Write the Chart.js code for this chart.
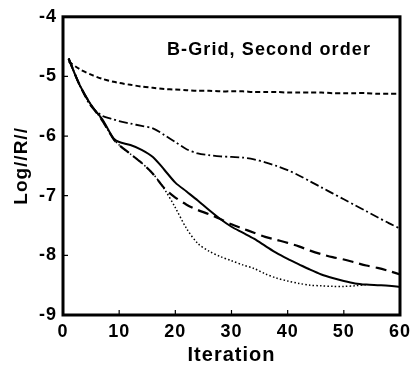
<!DOCTYPE html>
<html><head><meta charset="utf-8">
<script src="https://cdn.jsdelivr.net/npm/chart.js@4/dist/chart.umd.min.js"></script>
<style>html,body{margin:0;padding:0;background:#fff}#wrap{width:416px;height:369px}</style>
</head><body><div id="wrap"><canvas id="c" width="416" height="369"></canvas></div>
<script>
const iterations = [1,3,5,7,9,10,12,14,16,18,20,22,24,26,28,30,32,34,36,38,40,42,44,46,48,50,52,54,56,58,60];
const solid      = [-4.70,-5.15,-5.48,-5.72,-6.04,-6.10,-6.15,-6.23,-6.35,-6.56,-6.78,-6.93,-7.08,-7.24,-7.39,-7.52,-7.62,-7.72,-7.84,-7.96,-8.06,-8.15,-8.24,-8.32,-8.38,-8.43,-8.47,-8.49,-8.50,-8.51,-8.53];
const longDash   = [-4.70,-5.15,-5.48,-5.74,-6.05,-6.15,-6.30,-6.45,-6.63,-6.87,-7.03,-7.15,-7.24,-7.31,-7.39,-7.48,-7.55,-7.62,-7.69,-7.74,-7.79,-7.85,-7.92,-7.98,-8.03,-8.07,-8.12,-8.17,-8.21,-8.26,-8.32];
const dotted     = [-4.70,-5.15,-5.48,-5.74,-6.05,-6.15,-6.30,-6.45,-6.63,-6.88,-7.20,-7.55,-7.80,-7.93,-8.02,-8.09,-8.16,-8.22,-8.31,-8.38,-8.43,-8.47,-8.50,-8.51,-8.52,-8.52,-8.51,-8.49,null,null,null];
const dashDot    = [-4.70,-5.15,-5.50,-5.66,-5.72,-5.75,-5.79,-5.83,-5.87,-5.98,-6.10,-6.22,-6.29,-6.32,-6.34,-6.35,-6.36,-6.39,-6.44,-6.50,-6.57,-6.66,-6.76,-6.86,-6.96,-7.06,-7.16,-7.26,-7.36,-7.46,-7.55];
const shortDash  = [-4.75,-4.88,-4.97,-5.04,-5.09,-5.11,-5.14,-5.17,-5.19,-5.21,-5.22,-5.23,-5.24,-5.24,-5.25,-5.25,-5.25,-5.26,-5.26,-5.26,-5.27,-5.27,-5.27,-5.27,-5.28,-5.28,-5.28,-5.28,-5.29,-5.29,-5.29];
const xTicks = [0,10,20,30,40,50,60];
const yTicks = [-9,-8,-7,-6,-5,-4];
const xTitle = 'Iteration';
const yTitle = 'Log//R//';
const annotation = 'B-Grid, Second order';

function pts(arr){ return iterations.map((x,i)=>({x:x,y:arr[i]})).filter(p=>p.y!==null); }
function ds(arr, dash, width){
  return {data:pts(arr), borderColor:'#000', borderWidth:width, borderDash:dash, pointRadius:0, tension:0.3, fill:false};
}
const FONT = '"Liberation Sans", Arial, Helvetica, sans-serif';

const framePlugin = {
  id:'frame',
  beforeDraw(chart){ chart.ctx.letterSpacing='1px'; },
  afterDatasetsDraw(chart){
    const {ctx, chartArea:a, scales:{x,y}} = chart;
    ctx.save();
    ctx.strokeStyle='#000';
    ctx.lineWidth=3;
    ctx.strokeRect(a.left, a.top, a.right-a.left, a.bottom-a.top);
    ctx.lineWidth=1.2;
    ctx.beginPath();
    xTicks.forEach(v=>{ const px=x.getPixelForValue(v); ctx.moveTo(px,a.bottom); ctx.lineTo(px,a.bottom-5); });
    yTicks.forEach(v=>{ const py=y.getPixelForValue(v); ctx.moveTo(a.left,py); ctx.lineTo(a.left+5,py); });
    ctx.stroke();
    ctx.fillStyle='#000';
    ctx.font='bold 18px '+FONT;
    ctx.letterSpacing='1.1px';
    ctx.textAlign='left';
    ctx.textBaseline='alphabetic';
    ctx.fillText(annotation, a.left+104, a.top+38);
    ctx.restore();
  },
  afterDraw(chart){ chart.ctx.letterSpacing='0px'; }
};

new Chart(document.getElementById('c'), {
  type:'line',
  data:{datasets:[
    ds(shortDash,[5,3],2),
    ds(dashDot,[9,3,2,3],1.8),
    ds(longDash,[11,6],2.2),
    ds(dotted,[1.5,2.2],1.5),
    ds(solid,[],2)
  ]},
  options:{
    responsive:false, animation:false,
    layout:{padding:{top:16,right:13,left:0,bottom:0}},
    plugins:{legend:{display:false}, tooltip:{enabled:false}},
    scales:{
      x:{type:'linear', min:0, max:60,
        afterFit(s){ s.height=54; },
        afterBuildTicks(s){ s.ticks = xTicks.map(v=>({value:v})); },
        ticks:{color:'#000', font:{family:FONT, size:18, weight:'bold'}, padding:6, maxRotation:0},
        grid:{display:false, drawTicks:false}, border:{display:false},
        title:{display:true, text:xTitle, color:'#000', font:{family:FONT, size:20, weight:'bold'}, padding:{top:0,bottom:2}}
      },
      y:{min:-9, max:-4,
        afterFit(s){ s.width=63; },
        afterBuildTicks(s){ s.ticks = yTicks.map(v=>({value:v})); },
        ticks:{color:'#000', font:{family:FONT, size:18, weight:'bold'}, padding:6},
        grid:{display:false, drawTicks:false}, border:{display:false},
        title:{display:true, text:yTitle, color:'#000', font:{family:FONT, size:19, weight:'bold'}, padding:{top:10,bottom:0}}
      }
    }
  },
  plugins:[framePlugin]
});
</script></body></html>
